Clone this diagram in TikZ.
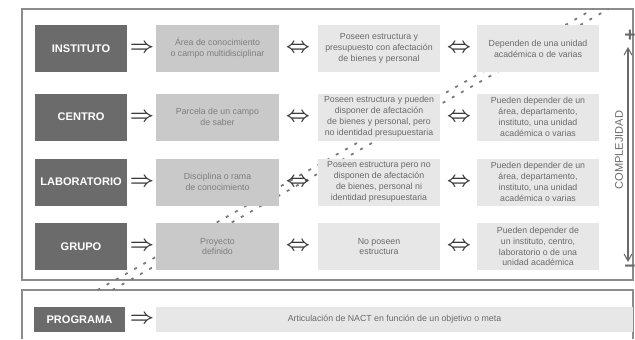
\documentclass[tikz,border=0pt]{standalone}
\usepackage{fontspec}
\setmainfont{Liberation Sans}
\usetikzlibrary{arrows.meta}
\definecolor{oscuro}{HTML}{6B6B6B}
\definecolor{medio}{HTML}{C9C9C9}
\definecolor{txtmedio}{HTML}{7E7E7E}
\definecolor{claro}{HTML}{E7E7E7}
\definecolor{txtclaro}{HTML}{6A6A6A}
\definecolor{borde}{HTML}{8C8C8C}
\definecolor{punteado}{HTML}{7A7A7A}
\definecolor{flechas}{HTML}{3A3A3A}
\begin{document}
\begin{tikzpicture}[x=0.02cm,y=-0.02cm,
	tipo/.style={fill=oscuro,text=white,font=\fontsize{6.3}{7}\selectfont\bfseries,minimum width=1.84cm,minimum height=0.94cm,inner sep=0pt},
	campo/.style={fill=medio,text=txtmedio,align=center,font=\fontsize{5}{6.2}\selectfont,minimum width=2.46cm,minimum height=0.94cm,inner sep=0pt},
	rasgo/.style={fill=claro,text=txtclaro,align=center,font=\fontsize{5}{6.2}\selectfont,minimum width=2.46cm,minimum height=0.94cm,inner sep=0pt},
	simb/.style={text=flechas,font=\fontsize{12}{12}\selectfont\boldmath,inner sep=0pt},
	marco/.style={draw=borde,line width=0.6pt},
	traza/.style={draw=punteado,line width=1pt,dash pattern=on 1.7pt off 4.3pt}]
	%\draw[step=50,gray!15] (0,0) grid (635,339); %Hilfsgitter
	\useasboundingbox (0,0) rectangle (635,339);
	\draw[marco] (22,9) rectangle (633,280); \draw[marco] (22,339) -- (22,290) -- (633,290) -- (633,339);
	
	% doppelte Strichlinie (hinter den Kaesten)
	\coordinate (a1) at (97.5,290); \coordinate (a2) at (593.5,9); \coordinate (b1) at (112.5,290); \coordinate (b2) at (608.5,9);
	\draw[traza] (a1) -- (a2); \draw[traza] (b1) -- (b2);
	
	\node[tipo] (I) at (81,48.5) {INSTITUTO}; \node[campo] (I2) at (217.5,48.5) {Área de conocimiento\\o campo multidisciplinar};
	\node[rasgo] (I3) at (379,48.5) {Poseen estructura y\\presupuesto con afectación\\de bienes y personal}; \node[rasgo] (I4) at (538,48.5) {Dependen de una unidad\\académica o de varias};
	
	\node[tipo] (C) at (81,117) {CENTRO}; \node[campo] (C2) at (217.5,117) {Parcela de un campo\\de saber};
	\node[rasgo] (C3) at (379,117) {Poseen estructura y pueden\\disponer de afectación\\de bienes y personal, pero\\no identidad presupuestaria}; \node[rasgo] (C4) at (538,117) {Pueden depender de un\\área, departamento,\\instituto, una unidad\\académica o varias};
	
	\node[tipo] (L) at (81,182) {LABORATORIO}; \node[campo] (L2) at (217.5,182) {Disciplina o rama\\de conocimiento};
	\node[rasgo] (L3) at (379,182) {Poseen estructura pero no\\disponen de afectación\\de bienes, personal ni\\identidad presupuestaria}; \node[rasgo] (L4) at (538,182) {Pueden depender de un\\área, departamento,\\instituto, una unidad\\académica o varias};
	
	\node[tipo] (G) at (81,246.5) {GRUPO}; \node[campo] (G2) at (217.5,246.5) {Proyecto\\definido};
	\node[rasgo] (G3) at (379,246.5) {No poseen\\estructura}; \node[rasgo] (G4) at (538,246.5) {Pueden depender de\\un instituto, centro,\\laboratorio o de una\\unidad académica};
	
	\foreach \f/\y in {I/48.5,C/117,L/182,G/246.5} {
		\node[simb] (\f a) at (142,\y) {$\Rightarrow$}; \node[simb] (\f b) at (298,\y) {$\Leftrightarrow$}; \node[simb] (\f c) at (459,\y) {$\Leftrightarrow$};
	}
	
	% Komplexitaet
	\coordinate (ko) at (628,47); \coordinate (ku) at (628,262);
	\draw[{Straight Barb[length=4pt,width=4.5pt]}-{Straight Barb[length=4pt,width=4.5pt]},draw=txtclaro,line width=0.6pt] (ku) -- (ko);
	\node[text=txtclaro,font=\fontsize{11}{11}\selectfont\bfseries,inner sep=0pt] (mas) at (630,36) {+}; \node[text=txtclaro,font=\fontsize{11}{11}\selectfont\bfseries,inner sep=0pt] (menos) at (630,269) {−};
	\node[rotate=90,text=txtclaro,font=\fontsize{6.3}{7}\selectfont,inner sep=0pt] (K) at (619,150) {COMPLEJIDAD};
	
	\node[tipo,minimum width=1.82cm,minimum height=0.5cm] (P) at (79.5,319.5) {PROGRAMA}; \node[simb] (Pa) at (142,319.5) {$\Rightarrow$};
	\node[rasgo,minimum width=9.54cm,minimum height=0.5cm] (P2) at (394.5,319.5) {Articulación de NACT en función de un objetivo o meta};
\end{tikzpicture}
\end{document}
